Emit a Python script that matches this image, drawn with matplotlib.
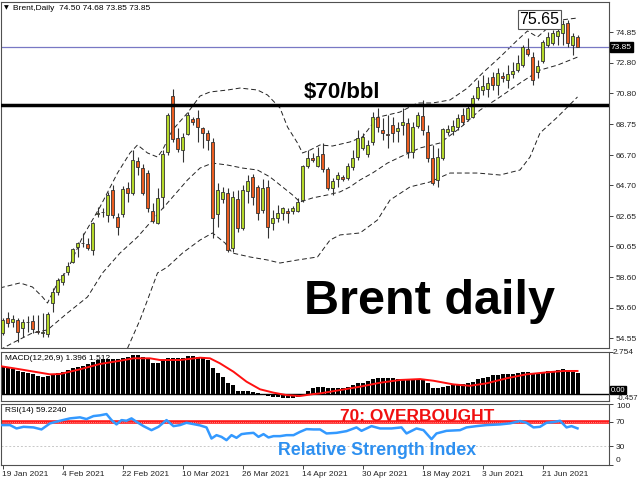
import numpy as np
import matplotlib.pyplot as plt

plt.rcParams['font.family'] = ['Liberation Sans', 'DejaVu Sans']

# daily OHLC, 19 Jan 2021 .. 30 Jun 2021
opens = [54.92, 55.91, 55.64, 55.78, 55.25, 55.62, 55.71, 55.00, 54.90, 54.85,
         56.90, 57.63, 58.29, 58.96, 59.62, 60.61, 60.85, 60.81, 60.41, 62.80,
         62.90, 62.73, 64.39, 62.60, 62.80, 64.52, 64.19, 66.31, 65.84, 65.51,
         63.00, 62.20, 63.92, 66.90, 70.61, 67.83, 67.03, 68.10, 69.09, 69.15,
         68.49, 68.16, 67.57, 62.80, 63.79, 64.19, 60.55, 63.79, 61.87, 64.32,
         65.25, 64.59, 63.06, 64.59, 62.20, 62.53, 62.86, 63.00, 63.00, 63.00,
         63.72, 65.98, 66.50, 65.98, 66.77, 65.78, 64.52, 65.12, 65.25, 65.18,
         65.92, 66.57, 67.17, 66.80, 67.57, 69.22, 68.36, 68.10, 68.69, 68.30,
         68.69, 68.82, 66.90, 68.62, 69.29, 68.23, 66.50, 65.05, 66.50, 68.20,
         68.30, 68.56, 69.35, 69.10, 69.20, 70.48, 71.00, 71.10, 71.87, 71.34,
         71.94, 71.67, 72.07, 72.34, 72.66, 73.72, 73.20, 72.20, 72.93, 73.99,
         74.12, 74.58, 74.78, 75.45, 73.99, 74.50]
highs = [55.90, 56.31, 56.11, 55.91, 55.84, 56.04, 56.11, 56.11, 56.24, 56.30,
         57.90, 58.56, 58.89, 59.60, 60.55, 60.94, 61.54, 61.21, 62.27, 63.26,
         63.20, 64.26, 64.72, 62.86, 64.65, 64.92, 67.03, 66.57, 66.10, 65.71,
         63.53, 64.52, 67.03, 69.49, 71.08, 68.49, 68.16, 69.55, 69.22, 69.68,
         68.56, 68.36, 67.83, 64.85, 64.59, 64.52, 64.30, 64.39, 64.72, 65.38,
         65.45, 64.72, 65.12, 65.05, 63.06, 63.39, 63.26, 63.19, 63.30, 63.86,
         66.04, 67.03, 66.84, 67.23, 67.50, 65.91, 65.18, 65.58, 65.40, 66.17,
         67.03, 68.36, 68.16, 67.70, 69.55, 69.81, 69.15, 69.35, 69.22, 68.89,
         69.81, 69.15, 68.89, 69.55, 70.35, 68.69, 67.37, 67.17, 68.49, 68.69,
         69.02, 69.42, 69.82, 70.02, 70.68, 71.67, 72.00, 71.87, 72.20, 72.47,
         72.20, 72.66, 72.86, 73.33, 73.99, 74.45, 73.52, 73.00, 74.32, 74.85,
         74.98, 75.25, 75.65, 75.65, 74.78, 74.68]
lows = [54.80, 55.32, 55.32, 54.32, 54.65, 54.98, 54.92, 54.85, 54.65, 54.65,
        56.30, 57.43, 58.10, 58.76, 59.55, 59.95, 60.61, 60.41, 60.08, 62.60,
        62.60, 62.27, 62.53, 61.41, 62.60, 63.59, 64.05, 65.38, 64.05, 62.93,
        62.20, 62.13, 63.19, 66.70, 67.57, 66.90, 66.24, 68.03, 68.69, 67.57,
        67.17, 67.03, 61.21, 61.94, 63.53, 60.28, 60.28, 61.60, 61.74, 63.53,
        63.39, 62.40, 62.86, 61.21, 61.74, 62.27, 62.40, 62.20, 62.80, 62.93,
        63.59, 65.84, 66.24, 65.91, 65.58, 64.39, 64.06, 64.59, 65.00, 65.05,
        65.71, 66.37, 67.03, 66.57, 67.37, 68.23, 67.70, 67.17, 67.57, 67.57,
        68.03, 66.50, 66.50, 68.49, 68.03, 66.24, 64.72, 64.59, 66.37, 68.03,
        68.00, 68.36, 68.69, 68.95, 69.15, 70.35, 70.68, 70.55, 71.00, 70.68,
        71.54, 71.14, 71.80, 72.20, 72.53, 73.26, 71.34, 71.80, 72.80, 73.86,
        73.99, 73.99, 73.99, 73.86, 73.33, 73.85]
closes = [55.78, 55.58, 55.84, 54.98, 55.64, 55.66, 55.18, 54.97, 54.93, 56.17,
          57.63, 58.43, 58.76, 59.35, 60.48, 60.88, 60.90, 60.55, 62.20, 62.86,
          62.95, 64.06, 62.73, 61.94, 64.45, 64.19, 66.37, 65.91, 64.19, 63.19,
          62.33, 63.86, 66.77, 69.35, 67.76, 67.10, 67.90, 69.35, 68.89, 68.56,
          68.16, 67.70, 62.53, 64.39, 64.26, 60.41, 63.92, 61.87, 64.39, 64.98,
          63.92, 62.86, 64.52, 61.94, 62.53, 62.86, 63.19, 62.86, 63.19, 63.59,
          65.98, 66.50, 66.37, 66.64, 65.78, 64.52, 64.98, 65.38, 65.12, 65.98,
          66.50, 67.83, 67.90, 67.40, 69.22, 68.56, 68.16, 68.05, 68.16, 68.50,
          68.89, 66.90, 68.56, 69.35, 68.36, 66.50, 64.85, 66.57, 68.43, 68.40,
          68.62, 69.15, 68.89, 69.80, 70.48, 71.20, 71.30, 71.50, 71.34, 72.14,
          71.80, 72.07, 72.27, 72.80, 73.86, 73.39, 71.67, 72.60, 74.19, 74.52,
          74.78, 74.92, 75.38, 74.12, 74.58, 73.85]

# bollinger bands (bar position, price)
bb_upper_pos = [-0.5, 3.5, 6, 8, 9, 11, 13, 16, 19.5, 23, 25.5, 27, 29, 31, 32, 34, 37,
                39.5, 41.5, 45, 47.5, 51, 53, 55.5, 57, 59, 60, 61.5, 63.5, 66, 69.5,
                72, 75, 79.5, 83, 86, 89.5, 93, 96, 99.5, 103, 105, 107, 109, 111.5, 115]
bb_upper = [57.9, 58.23, 57.96, 57.3, 56.9, 58.23, 59.09, 61.27, 63.26, 65.51, 66.84,
            67.37, 66.84, 66.57, 67.03, 68.36, 69.49, 70.61, 70.88, 71.01, 71.14, 71.01,
            70.68, 69.82, 68.56, 67.5, 66.84, 67.03, 67.37, 67.3, 67.57, 67.9, 69.2,
            69.55, 70.15, 70.15, 70.35, 71.14, 72.13, 73.19, 74.32, 74.92, 74.52,
            75.11, 75.64, 75.78]
bb_mid_pos = [-0.5, 2, 6, 9, 13, 17, 20, 23.5, 27, 30, 33, 37, 39.5, 42, 45, 48, 51,
              53.5, 56, 58, 59.5, 62, 65, 67.5, 69.5, 71.5, 74, 77, 79.5, 83.5, 87.5,
              91.5, 95.5, 99.5, 103.5, 107.5, 111, 115]
bb_mid = [53.8, 54.25, 54.92, 55.12, 56.24, 57.3, 58.89, 60.21, 61.27, 62.4, 63.53,
          65.05, 65.84, 66.17, 66.04, 65.84, 65.71, 65.25, 64.59, 64.06, 63.59, 63.86,
          64.06, 64.26, 64.59, 65.05, 65.51, 66.17, 66.57, 67.17, 67.5, 68.49, 69.68,
          70.55, 71.47, 72.33, 72.66, 73.19]
bb_lower_pos = [25, 27.5, 29, 31, 33, 36, 39.5, 42, 44.5, 46, 49.5, 53, 55.5, 59, 63,
                65.5, 67.5, 71.5, 75, 77.5, 81.5, 85.5, 89.5, 95, 99.5, 103.5, 105.5,
                107.5, 111, 115]
bb_lower = [53.9, 55.78, 57.1, 58.89, 59.29, 60.21, 61.07, 61.54, 60.88, 60.21, 59.95,
            59.75, 59.55, 59.75, 59.95, 61.07, 61.41, 61.54, 62.4, 63.72, 64.59, 64.92,
            65.51, 65.51, 65.38, 65.71, 66.57, 68.16, 69.22, 70.55]

# MACD(12,26,9) histogram and signal
macd = [1.83, 1.68, 1.62, 1.53, 1.46, 1.40, 1.31, 1.20, 1.13, 1.18,
        1.29, 1.36, 1.46, 1.57, 1.68, 1.79, 1.85, 1.97, 2.10, 2.23,
        2.27, 2.31, 2.29, 2.27, 2.34, 2.40, 2.53, 2.56, 2.45, 2.27,
        2.05, 2.01, 2.23, 2.38, 2.38, 2.38, 2.38, 2.49, 2.49, 2.45,
        2.40, 2.23, 1.68, 1.40, 1.09, 0.70, 0.59, 0.20, 0.20, 0.18,
        0.15, 0.09, 0.01, -0.13, -0.17, -0.22, -0.26, -0.28, -0.28, -0.22,
        -0.02, 0.22, 0.37, 0.48, 0.48, 0.41, 0.37, 0.37, 0.41, 0.48,
        0.57, 0.70, 0.74, 0.87, 0.96, 1.03, 1.03, 1.03, 1.03, 0.96,
        0.96, 0.96, 0.96, 0.98, 0.92, 0.70, 0.37, 0.37, 0.48, 0.52,
        0.59, 0.63, 0.66, 0.70, 0.81, 0.96, 1.03, 1.13, 1.22, 1.27,
        1.29, 1.31, 1.31, 1.36, 1.44, 1.44, 1.40, 1.40, 1.46, 1.51,
        1.53, 1.57, 1.62, 1.51, 1.46, 1.396]
signal_pos = [-0.5, 3.5, 7.5, 9.5, 11.5, 15.5, 19.5, 23.5, 26.2, 29.5, 31.5, 35.5, 39.5,
              41.5, 43.5, 46.2, 48.8, 51.5, 54.2, 56.8, 59.5, 62.2, 63.5, 67.5, 71.5,
              75.5, 79.5, 83.5, 86.2, 90.2, 93.5, 96.8, 100.8, 104.8, 108.8, 112.2, 115]
signal = [1.83, 1.62, 1.40, 1.29, 1.31, 1.62, 1.97, 2.18, 2.34, 2.34, 2.23, 2.23, 2.38,
          2.34, 2.01, 1.46, 0.81, 0.31, 0.09, -0.07, -0.13, 0.0, 0.04, 0.26, 0.48,
          0.74, 0.92, 0.98, 0.87, 0.63, 0.54, 0.70, 1.03, 1.29, 1.42, 1.51, 1.512]

# RSI(14)
rsi_pos = [-0.5, 1.5, 2.8, 4.2, 6.2, 7.8, 9.5, 11.5, 13.5, 15.5, 16.8, 18.2, 19.5, 20.8,
           21.8, 22.8, 23.8, 24.8, 25.8, 26.8, 28.2, 29.8, 31.2, 32.8, 34.2, 35.5, 36.8,
           38.2, 39.5, 40.8, 41.8, 42.8, 43.8, 44.8, 45.8, 46.8, 47.8, 48.8, 50.2, 51.2,
           52.2, 53.2, 54.2, 55.5, 56.8, 58.2, 59.5, 60.8, 62.2, 63.5, 64.8, 66.8, 68.8,
           70.8, 71.8, 73.8, 75.5, 77.8, 79.8, 80.8, 82.8, 84.2, 85.8, 86.8, 88.8, 91.5,
           92.8, 94.8, 96.8, 99.5, 101.5, 103.5, 104.8, 106.2, 107.5, 108.8, 110.2,
           111.5, 112.8, 113.8, 115]
rsi = [64.6, 64.6, 59.1, 61.8, 60.8, 57.5, 67.4, 71.7, 75.6, 77.3, 74.5, 79.4, 80.6, 82.7,
       72.8, 65.7, 72.8, 71.7, 75.6, 70.0, 62.9, 56.3, 61.8, 72.8, 62.9, 64.6, 68.4,
       66.2, 64.1, 60.8, 42.6, 48.1, 45.3, 39.9, 48.1, 43.7, 49.8, 50.9, 51.9, 45.3,
       49.8, 44.3, 46.5, 46.5, 48.1, 48.1, 53.5, 58.0, 57.5, 57.5, 50.9, 51.9, 54.7,
       60.8, 55.2, 62.9, 59.1, 59.1, 60.8, 50.9, 59.1, 56.3, 41.5, 50.9, 55.2, 56.3,
       60.8, 62.9, 64.6, 65.7, 67.4, 71.2, 68.4, 60.8, 61.8, 68.4, 69.5, 71.7, 60.8,
       62.9, 59.224]

date_bars = [0, 12, 24, 36, 48, 60, 72, 84, 96, 108]
date_labels = ['19 Jan 2021', '4 Feb 2021', '22 Feb 2021', '10 Mar 2021', '26 Mar 2021',
               '14 Apr 2021', '30 Apr 2021', '18 May 2021', '3 Jun 2021', '21 Jun 2021']
price_ticks = [74.85, 72.80, 70.80, 68.75, 66.70, 64.70, 62.65, 60.65, 58.60, 56.60, 54.55]

last_price = 73.85
level_70 = 70.0

BULL = '#b5d82a'
BEAR = '#ec5d20'
EDGE = '#333333'
FRAME = '#505050'


def style_axes(ax):
    for s in ax.spines.values():
        s.set_color(FRAME)
        s.set_linewidth(0.8)
    ax.yaxis.tick_right()
    ax.tick_params(axis='y', length=3, width=0.6, labelsize=6, pad=2, colors='#222222')
    ax.set_xlim(-0.3, 121.3)


def main():
    fig = plt.figure(figsize=(6.4, 4.8), dpi=100)
    W, H = 640.0, 480.0
    ax = fig.add_axes([1 / W, 1 - 348 / H, 608 / W, 346 / H])
    ax_m = fig.add_axes([1 / W, 1 - 401 / H, 608 / W, 49 / H])
    ax_r = fig.add_axes([1 / W, 1 - 464.5 / H, 608 / W, 61 / H])

    # ---- price panel
    x = np.arange(len(closes))
    o = np.array(opens)
    c = np.array(closes)
    up = c >= o
    lo = np.minimum(o, c)
    h = np.maximum(np.abs(c - o), 0.05)
    ax.vlines(x, lows, highs, color=EDGE, lw=0.8, zorder=2)
    ax.bar(x[up], h[up], bottom=lo[up], width=0.62, color=BULL, edgecolor=EDGE, lw=0.6, zorder=3)
    ax.bar(x[~up], h[~up], bottom=lo[~up], width=0.62, color=BEAR, edgecolor=EDGE, lw=0.6, zorder=3)

    for pos, vals in [(bb_upper_pos, bb_upper), (bb_mid_pos, bb_mid), (bb_lower_pos, bb_lower)]:
        ax.plot(pos, vals, color='#222222', lw=0.7, dashes=(5, 3), zorder=1)

    ax.axhline(level_70, color='black', lw=2.5, zorder=4)
    ax.axhline(last_price, color='#7878c4', lw=0.9, zorder=1)

    ax.set_ylim(53.92, 76.84)
    style_axes(ax)
    ax.set_yticks(price_ticks)
    ax.set_yticklabels(['%.2f' % v for v in price_ticks])
    ax.set_xticks([])
    ax.text(1.003, last_price, '%.2f' % last_price, transform=ax.get_yaxis_transform(),
            fontsize=6, color='white', va='center', ha='left',
            bbox=dict(boxstyle='square,pad=0.15', fc='black', ec='black'))

    top = max(highs)
    ax.text(107.4, top + 0.03, '%.2f' % top, fontsize=11.5, ha='center', va='center',
            bbox=dict(boxstyle='square,pad=0.12', fc='white', ec='#555555', lw=0.8), zorder=6)
    ax.text(67.9, 70.48, '$70/bbl', fontsize=16, fontweight='bold', ha='center', va='baseline')
    ax.text(85.5, 56.18, 'Brent daily', fontsize=35, fontweight='bold', ha='center', va='baseline')

    fig.text(4 / W, 1 - 8 / H, '\u25bc', fontsize=4.5, va='center', ha='left',
             family=['DejaVu Sans'])
    fig.text(13 / W, 1 - 8 / H, 'Brent,Daily  %.2f %.2f %.2f %.2f'
             % (opens[-1], highs[-1], lows[-1], closes[-1]),
             fontsize=6, va='center', ha='left')

    # ---- MACD panel
    ax_m.bar(x, macd, width=0.8, color='black', zorder=2)
    ax_m.plot(signal_pos, signal, color='#ff1010', lw=1.4, zorder=3)
    ax_m.axhline(0, color='black', lw=1.0, zorder=1)
    ax_m.set_ylim(-0.457, 2.754)
    style_axes(ax_m)
    ax_m.set_xticks([])
    ax_m.set_yticks([2.754, 0])
    ax_m.set_yticklabels([])
    tr = ax_m.get_yaxis_transform()
    ax_m.text(1.006, 2.754, '2.754', transform=tr, fontsize=6, va='center', ha='left', color='#222222')
    # zero box sits just above the bottom label so the two don't collide
    ax_m.text(1.003, 0.03, '0.00', transform=tr, fontsize=5.5, va='bottom', ha='left', color='white',
              bbox=dict(boxstyle='square,pad=0.05', fc='black', ec='black'))
    ax_m.text(1.012, -0.05, '-0.457', transform=tr, fontsize=5.5, va='top', ha='left', color='#222222')
    ax_m.text(0.006, 0.86, 'MACD(12,26,9) %.3f %.3f' % (macd[-1], signal[-1]),
              transform=ax_m.transAxes, fontsize=6, va='center', ha='left', zorder=5)

    # ---- RSI panel
    ax_r.axhline(70, color='#ff1a1a', lw=2.6, zorder=1)
    ax_r.axhline(70, color='#ffb0b0', lw=0.6, ls=(0, (1, 1.5)), zorder=1)
    ax_r.axhline(30, color='#c8c8c8', lw=0.7, ls=(0, (2, 2)), zorder=1)
    ax_r.plot(rsi_pos, rsi, color='#3399ff', lw=1.8, zorder=3)
    ax_r.set_ylim(0, 100)
    style_axes(ax_r)
    ax_r.set_yticks([100, 70, 30, 0])
    ax_r.set_yticklabels(['100', '70', '30', '0'])
    labs = ax_r.get_yticklabels()
    labs[0].set_va('top')
    labs[3].set_va('bottom')
    ax_r.text(0.006, 0.89, 'RSI(14) %.4f' % rsi[-1], transform=ax_r.transAxes,
              fontsize=6, va='center', ha='left')
    ax_r.text(82.9, 71, '70: OVERBOUGHT', fontsize=12.5, fontweight='bold', color='#f01010',
              ha='center', va='baseline', zorder=4)
    ax_r.text(74.9, 15.2, 'Relative Strength Index', fontsize=12.8, fontweight='bold',
              color='#2e90f0', ha='center', va='baseline', zorder=4)

    ax_r.set_xticks(date_bars)
    ax_r.set_xticklabels(date_labels, ha='left')
    ax_r.tick_params(axis='x', length=3, width=0.6, labelsize=6, pad=2, colors='#222222')

    fig.savefig('out.png', dpi=100)


if __name__ == '__main__':
    main()
